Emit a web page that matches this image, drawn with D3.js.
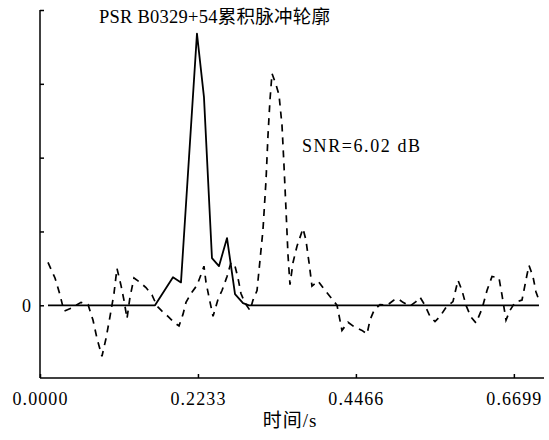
<!DOCTYPE html>
<html>
<head>
<meta charset="utf-8">
<script src="https://cdn.jsdelivr.net/npm/d3@7"></script>
<style>
  body { margin: 0; background: #fff; }
  text { font-family: "Liberation Serif", "Noto Sans CJK SC", serif; fill: #000; }
</style>
</head>
<body>
<div id="mainDiv"></div>
<script>
'use strict';

// accumulated profile (solid)
const solidTime  = [0.0113, 0.1626, 0.1880, 0.1993, 0.2219, 0.2318, 0.2431, 0.2530, 0.2644, 0.2757, 0.2870, 0.2955, 0.7054];
const solidValue = [0, 0, 0.38, 0.31, 3.68, 2.82, 0.64, 0.53, 0.91, 0.15, 0.03, 0, 0];

// second profile (dashed)
const dashTime = [0.0113, 0.0212, 0.0283, 0.0339, 0.0438, 0.0580, 0.0679, 0.0749, 0.0806, 0.0876,
  0.0933, 0.0990, 0.1046, 0.1088, 0.1145, 0.1187, 0.1230, 0.1272, 0.1329, 0.1414,
  0.1498, 0.1583, 0.1654, 0.1725, 0.1809, 0.1894, 0.1965, 0.2022, 0.2064, 0.2135,
  0.2219, 0.2290, 0.2318, 0.2347, 0.2389, 0.2446, 0.2516, 0.2573, 0.2644, 0.2700,
  0.2757, 0.2799, 0.2841, 0.2898, 0.2969, 0.3011, 0.3068, 0.3110, 0.3152, 0.3195,
  0.3223, 0.3251, 0.3280, 0.3336, 0.3379, 0.3421, 0.3449, 0.3478, 0.3506, 0.3534,
  0.3577, 0.3633, 0.3718, 0.3760, 0.3803, 0.3845, 0.3930, 0.4015, 0.4100, 0.4199,
  0.4269, 0.4354, 0.4453, 0.4552, 0.4623, 0.4665, 0.4722, 0.4806, 0.4905, 0.5004,
  0.5061, 0.5131, 0.5230, 0.5315, 0.5372, 0.5442, 0.5513, 0.5584, 0.5655, 0.5739,
  0.5838, 0.5909, 0.5966, 0.6022, 0.6093, 0.6164, 0.6248, 0.6319, 0.6390, 0.6489,
  0.6531, 0.6588, 0.6644, 0.6715, 0.6814, 0.6884, 0.6913, 0.6969, 0.7012, 0.7054];
const dashValue = [0.58, 0.37, 0.14, -0.08, -0.04, 0.04, 0.01, -0.20, -0.45, -0.69,
  -0.45, -0.15, 0.16, 0.50, 0.27, 0.07, -0.18, 0.11, 0.37, 0.31,
  0.24, 0.14, -0.01, -0.08, -0.15, -0.23, -0.28, -0.12, 0.04, 0.16,
  0.27, 0.45, 0.53, 0.31, 0.11, -0.15, 0.08, 0.20, 0.39, 0.58,
  0.53, 0.37, 0.16, 0.03, -0.07, 0.07, 0.20, 0.61, 1.02, 1.69,
  2.30, 2.78, 3.14, 2.99, 2.85, 2.44, 1.90, 1.29, 0.68, 0.28,
  0.58, 0.80, 1.04, 0.88, 0.58, 0.26, 0.33, 0.22, 0.12, 0,
  -0.34, -0.23, -0.30, -0.34, -0.39, -0.20, -0.07, 0.01, 0, 0.07,
  0.09, 0.04, -0.01, 0.05, 0.11, 0, -0.15, -0.22, -0.15, -0.03,
  0.05, 0.34, 0.20, 0, -0.16, -0.24, -0.05, 0.20, 0.39, 0.37,
  0.14, -0.20, -0.07, 0.04, 0.07, 0.41, 0.54, 0.39, 0.18, 0.07];

const xTicks = [0, 0.2233, 0.4466, 0.6699];
const xTickLabels = ['0.0000', '0.2233', '0.4466', '0.6699'];
const yTicks = [0, 1, 2, 3, 4];
const yTickLabels = ['0', '', '', '', ''];

const titleText = 'PSR B0329+54累积脉冲轮廓';
const snrText = 'SNR=6.02 dB';
const xTitle = '时间/s';

var myApp = {};

myApp.w = 549;
myApp.h = 440;
myApp.margins = {top: 10, bottom: 62, left: 40, right: 5};
myApp.cw = myApp.w - myApp.margins.left - myApp.margins.right;
myApp.ch = myApp.h - myApp.margins.top - myApp.margins.bottom;

myApp.appendSvg = function(div)
{
    myApp.svg = d3.select(div).append('svg')
        .attr('width', myApp.w)
        .attr('height', myApp.h);
    myApp.plot = myApp.svg.append('g')
        .attr('transform', 'translate(' + myApp.margins.left + ',' + myApp.margins.top + ')');
}

myApp.buildScales = function()
{
    myApp.x = d3.scaleLinear().domain([0, 0.7125]).range([0, myApp.cw]);
    myApp.y = d3.scaleLinear().domain([-0.985, 4]).range([myApp.ch, 0]);
}

myApp.drawAxes = function()
{
    var xAxis = d3.axisBottom(myApp.x)
        .tickValues(xTicks)
        .tickSize(-4)
        .tickPadding(12)
        .tickFormat(function(d, i) { return xTickLabels[i]; });

    var gx = myApp.plot.append('g')
        .attr('transform', 'translate(0,' + myApp.ch + ')')
        .call(xAxis);
    gx.select('.domain').attr('d', 'M0,0H' + myApp.cw);
    gx.selectAll('text')
        .style('font-size', '18px')
        .style('letter-spacing', '1.1px')
        .attr('dy', '0.85em');

    var yAxis = d3.axisLeft(myApp.y)
        .tickValues(yTicks)
        .tickSize(-4)
        .tickPadding(9)
        .tickFormat(function(d, i) { return yTickLabels[i]; });

    var gy = myApp.plot.append('g').call(yAxis);
    gy.select('.domain').attr('d', 'M0,0V' + myApp.ch);
    gy.selectAll('text').style('font-size', '18px');

    myApp.plot.selectAll('.domain, .tick line')
        .attr('stroke', '#000')
        .attr('stroke-width', 1.5);
}

myApp.drawLines = function()
{
    var line = d3.line()
        .x(function(d) { return myApp.x(d[0]); })
        .y(function(d) { return myApp.y(d[1]); });

    var solid = d3.zip(solidTime, solidValue);
    var dashed = d3.zip(dashTime, dashValue);

    myApp.plot.append('path')
        .datum(dashed)
        .attr('fill', 'none')
        .attr('stroke', '#000')
        .attr('stroke-width', 1.7)
        .attr('stroke-dasharray', '7,6')
        .attr('d', line);

    myApp.plot.append('path')
        .datum(solid)
        .attr('fill', 'none')
        .attr('stroke', '#000')
        .attr('stroke-width', 1.8)
        .attr('stroke-linejoin', 'round')
        .attr('d', line);
}

myApp.drawText = function()
{
    myApp.svg.append('text')
        .attr('x', 99)
        .attr('y', 23)
        .attr('textLength', 231)
        .style('font-size', '18.5px')
        .text(titleText);

    myApp.svg.append('text')
        .attr('x', 302)
        .attr('y', 152)
        .attr('textLength', 118)
        .style('font-size', '18px')
        .text(snrText);

    myApp.svg.append('text')
        .attr('x', myApp.margins.left + myApp.cw / 2 - 2)
        .attr('y', 427)
        .attr('text-anchor', 'middle')
        .style('font-size', '19px')
        .style('letter-spacing', '1px')
        .text(xTitle);
}

myApp.run = function()
{
    myApp.appendSvg('#mainDiv');
    myApp.buildScales();
    myApp.drawAxes();
    myApp.drawLines();
    myApp.drawText();
}

window.onload = myApp.run;
</script>
</body>
</html>
